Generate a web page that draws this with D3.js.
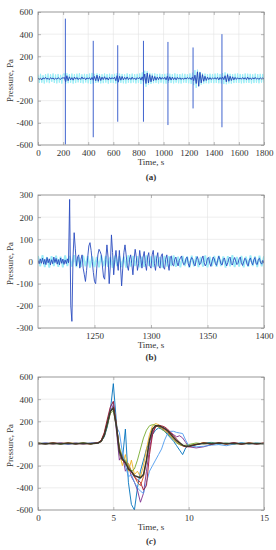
<!DOCTYPE html>
<html>
<head>
<meta charset="utf-8">
<script src="https://cdn.jsdelivr.net/npm/d3@7"></script>
<style>
  body { margin: 0; background: #fff; }
  text { font-family: "Liberation Serif", "DejaVu Serif", serif; fill: #333; }
</style>
</head>
<body>
<svg id="chart" width="276" height="550"></svg>
<script>
// ---------- panel (a): full record, 0..1800 s, sampled every 10 s ----------
const aStep = 10;
const aBlue = [
  5,-8,3,-12,6,-4,10,-6,2,-10,8,-3,5,-9,4,-6,7,-2,-8,6,3,
  10,-30,25,-20,15,-12,8,-15,12,-6,9,-10,5,-8,14,-5,7,-11,6,-4,
  8,-12,10,-15,18,-20,30,-25,20,-18,12,-10,16,-9,7,-14,10,-6,8,-5,
  12,-20,25,-30,20,-15,18,-12,10,-8,14,-10,6,-9,12,-7,5,-11,8,-4,
  10,-14,15,-25,40,-45,50,-40,35,-30,25,-20,18,-15,12,-10,14,-8,9,-6,
  11,-12,20,-18,15,-14,12,-10,8,-12,10,-6,7,-9,5,-8,6,-5,9,-4,
  7,-10,14,-20,30,-45,60,-70,55,-40,35,-25,20,-18,12,-10,8,-9,6,-5,
  8,-7,10,-12,9,-8,14,-10,25,-30,35,-25,20,-18,15,-12,10,-8,7,-6,
  5,-7,9,-6,8,-10,12,-8,6,-9,7,-5,10,-6,4,-8,6,-3,5,-2
];
const aCyan = [
  35,-40,42,-38,30,-45,40,-35,44,-42,38,-30,45,-40,36,-44,41,-37,33,-46,40,
  45,-50,48,-42,40,-38,44,-46,39,-41,43,-35,47,-40,38,-44,42,-36,40,-43,
  44,-48,50,-45,42,-40,46,-38,41,-44,39,-42,45,-37,40,-46,43,-39,38,-41,
  42,-45,48,-40,44,-39,41,-43,37,-45,46,-38,40,-42,44,-36,39,-44,42,-40,
  45,-48,55,-60,70,-75,65,-55,50,-48,44,-42,46,-40,41,-45,43,-38,40,-44,
  42,-46,45,-40,43,-41,39,-44,46,-38,41,-43,40,-45,44,-37,42,-40,38,-43,
  45,-48,52,-60,75,-85,80,-70,60,-55,48,-46,44,-42,40,-44,43,-39,41,-42,
  44,-40,46,-43,41,-45,48,-50,55,-52,47,-44,42,-46,40,-41,43,-38,45,-40,
  41,-44,39,-42,45,-38,43,-40,42,-45,38,-41,44,-39,40,-43,42,-37,41,-40
];
// blast spikes
const spikeT   = [218, 440, 635, 840, 1035, 1235, 1465];
const spikeMax = [540, 340, 300, 340, 330, 280, 400];
const spikeMin = [-595, -530, -390, -390, -420, -270, -440];

// ---------- panel (b): zoom 1200..1400 s ----------
const bStart = 1200, bStep = 1;
const bBlue = [
  5,-10,12,-8,15,-12,10,-14,18,-6,12,-15,8,-10,20,-5,14,-12,9,-15,16,-8,11,-13,7,-10,12,-6,
  280,-200,-270,20,130,60,-20,20,30,-30,10,30,-30,-60,-90,-40,20,70,85,50,
  0,-50,-90,-100,-30,30,55,45,30,-20,-70,-80,10,75,20,-100,-20,120,40,-60,
  10,50,0,-40,50,-20,-110,-30,40,75,30,-20,-40,10,30,-10,-60,10,55,20,
  -40,-10,50,10,-30,20,45,-10,-40,20,40,-20,-30,30,50,-10,-40,15,40,-20,
  -30,25,35,-25,-35,10,30,-10,-40,20,25,-15,-20,
  10,20,-5,-20,5,15,25,0,-15,-10,
  15,20,-10,-25,5,18,10,-12,-20,8,
  22,5,-15,-8,12,25,-5,-20,-10,15,
  18,-8,-22,0,20,12,-10,-18,6,24,
  8,-12,-15,10,16,-6,-20,-4,14,20,
  -10,-16,5,18,2,-14,-8,12,20,-6,
  -18,-2,15,10,-12,-20,6,16,-4,-15,
  8,18,-10,-14,10,15,-6,-12,5,-8
];
const bCyanStep = 2;
const bCyan = [
  25,-22,28,-25,20,-27,24,-20,26,-24,
  22,-26,27,-21,25,-23,28,-25,21,-24,
  26,-22,24,-27,23,-25,20,-26,27,-22,
  25,-24,21,-28,26,-20,24,-25,22,-27,
  28,-23,25,-21,24,-26,22,-24,27,-20,
  23,-25,26,-22,20,-27,25,-23,24,-21,
  27,-24,22,-26,25,-20,23,-28,26,-22,
  24,-25,21,-23,27,-26,22,-20,25,-24,
  26,-21,23,-27,24,-22,28,-25,20,-23,
  25,-26,22,-24,27,-21,23,-25,26,-22,
  24
];

// ---------- panel (c): superimposed blasts, 0..15 s ----------
const cTime = [0,0.5,1,1.5,2,2.5,3,3.5,4,
  4.2,4.4,4.6,4.8,5.0,5.2,5.4,5.6,5.8,6.0,
  6.2,6.4,6.6,6.8,7.0,7.2,7.4,7.6,7.8,8.0,
  8.2,8.4,8.6,8.8,9.0,9.2,9.4,9.6,9.8,10.0,
  10.5,11,11.5,12,12.5,13,13.5,14,14.5,15];
const cNames = ['s1', 's2', 's3', 's4', 's5', 's6', 's7', 's8'];
const cColors = ['#0072BD', '#D95319', '#EDB120', '#7E2F8E', '#77AC30', '#4D9BEE', '#A2142F', '#3b3a2c'];
const cS1 = [3,-5,4,-6,2,-4,5,-3,6, 20,60,150,300,540,200,-100,-150,130,-350, -550,-600,-400,-250,-150,-50,20,80,120,140, 130,110,80,50,20,-20,-60,-100,-40,-20, -10,5,10,-5,3,-4,6,-3,2,0];
const cS2 = [-4,3,-6,5,-2,4,-5,3,8, 15,70,180,290,330,180,-50,-120,-200,-180, -250,-300,-350,-380,-300,-150,20,120,160,150, 140,120,100,70,40,10,-10,-20,-30,-25, -10,8,-5,6,-4,3,-6,4,-2,3];
const cS3 = [2,-3,5,-4,6,-2,4,-5,10, 30,90,200,300,320,150,-80,-200,-100,-250, -150,-280,-250,-300,-200,-50,80,160,180,170, 150,130,110,80,50,20,0,-15,-25,-20, -5,6,-3,5,-6,4,-2,5,-4,2];
const cS4 = [-3,4,-2,5,-6,3,-4,2,5, 25,80,170,280,350,120,-150,-100,-250,-200, -300,-350,-420,-530,-450,-250,-50,100,150,160, 150,140,120,100,80,60,70,50,10,-30, -40,-30,-10,5,-4,6,-3,2,-5,3];
const cS5 = [4,-2,3,-5,4,-3,6,-4,7, 20,70,160,270,300,160,-30,-120,-150,-200, -250,-230,-150,-50,50,120,160,170,165,150, 130,110,90,60,30,5,-10,-20,-15,-10, 5,-4,6,-3,4,-5,3,-2,4,-3];
const cS6 = [-2,5,-4,3,-6,4,-3,5,6, 20,75,190,320,380,150,100,-80,-200,-300, -280,-350,-400,-430,-450,-350,-250,-200,-150,-100, -50,30,90,110,110,100,95,90,30,-20, -30,-25,-15,-10,-20,-5,5,-3,4,-2];
const cS7 = [3,-4,6,-3,5,-5,2,-4,9, 30,100,220,330,380,170,-60,-150,-180,-220, -260,-300,-330,-350,-420,-380,-100,80,150,165, 160,150,130,100,70,40,10,-20,-30,-30, -10,5,-5,4,-3,6,-4,3,-2,2];
const cS8 = [0,-2,3,-3,2,-2,3,-2,5, 22,75,180,290,320,160,-70,-140,-170,-230, -250,-290,-300,-310,-280,-150,30,130,160,160, 150,135,115,85,55,25,5,-15,-25,-25, -8,3,-2,4,-3,2,-4,3,-2,1];
const cSeries = [cS1, cS2, cS3, cS4, cS5, cS6, cS7, cS8];

// ---------- drawing ----------
const svg = d3.select('#chart');
const X0 = 38, X1 = 264;
const fmt = function (d) { return String(d); };

function makePanel(id, top, bottom, xDomain, yDomain, xTicks, yTicks, xLabelTicks, tag, tagY, tagItalic) {
  const x = d3.scaleLinear().domain(xDomain).range([X0, X1]);
  const y = d3.scaleLinear().domain(yDomain).range([bottom, top]);
  const g = svg.append('g');

  svg.append('clipPath').attr('id', 'clip-' + id)
    .append('rect').attr('x', X0).attr('y', top).attr('width', X1 - X0).attr('height', bottom - top);

  // grid
  g.selectAll('.gx').data(xTicks).join('line')
      .attr('x1', d => x(d)).attr('x2', d => x(d))
      .attr('y1', top).attr('y2', bottom)
      .attr('stroke', '#e3e3e3').attr('stroke-width', 0.6);
  g.selectAll('.gy').data(yTicks).join('line')
      .attr('x1', X0).attr('x2', X1)
      .attr('y1', d => y(d)).attr('y2', d => y(d))
      .attr('stroke', '#e3e3e3').attr('stroke-width', 0.6);

  const plot = g.append('g').attr('clip-path', 'url(#clip-' + id + ')');

  // axes (ticks pointing inward, MATLAB style)
  const axB = g.append('g').attr('transform', 'translate(0,' + bottom + ')')
      .call(d3.axisBottom(x).tickValues(xTicks).tickSize(-3).tickPadding(5)
        .tickFormat(d => xLabelTicks.includes(d) ? fmt(d) : ''));
  const axL = g.append('g').attr('transform', 'translate(' + X0 + ',0)')
      .call(d3.axisLeft(y).tickValues(yTicks).tickSize(-3).tickPadding(5).tickFormat(fmt));
  const axT = g.append('g').attr('transform', 'translate(0,' + top + ')')
      .call(d3.axisTop(x).tickValues(xTicks).tickSize(-3).tickFormat(''));
  const axR = g.append('g').attr('transform', 'translate(' + X1 + ',0)')
      .call(d3.axisRight(y).tickValues(yTicks).tickSize(-3).tickFormat(''));
  [axB, axL, axT, axR].forEach(function (a) {
    a.attr('font-family', '"Liberation Serif", serif');
    a.select('.domain').remove();
    a.selectAll('line').attr('stroke', '#8a8a8a').attr('stroke-width', 0.6);
    a.selectAll('text').attr('font-size', '9px').attr('fill', '#333');
  });

  g.append('rect').attr('x', X0).attr('y', top).attr('width', X1 - X0).attr('height', bottom - top)
      .attr('fill', 'none').attr('stroke', '#8a8a8a').attr('stroke-width', 0.8);

  // labels
  g.append('text')
      .attr('x', (X0 + X1) / 2).attr('y', bottom + 20)
      .attr('text-anchor', 'middle').attr('font-size', '9px')
      .text('Time, s');
  g.append('text')
      .attr('transform', 'translate(13,' + ((top + bottom) / 2 + 2) + ') rotate(-90)')
      .attr('text-anchor', 'middle').attr('font-size', '8.8px')
      .text('Pressure, Pa');
  const t = g.append('text')
      .attr('x', (X0 + X1) / 2).attr('y', tagY)
      .attr('text-anchor', 'middle').attr('font-size', '9px').attr('font-weight', 'bold');
  t.append('tspan').text('(');
  t.append('tspan').attr('font-style', tagItalic ? 'italic' : 'normal').text(tag);
  t.append('tspan').text(')');

  return { x: x, y: y, plot: plot };
}

// panel (a)
const pa = makePanel('a', 12, 145, [0, 1800], [-600, 600],
  d3.range(0, 1801, 200), d3.range(-600, 601, 200), d3.range(0, 1801, 200), 'a', 180, false);
const lineA = d3.line().x((d, i) => pa.x(i * aStep)).y(d => pa.y(d));
pa.plot.append('path').datum(aCyan).attr('d', lineA)
    .attr('fill', 'none').attr('stroke', '#9beef6').attr('stroke-width', 1);
pa.plot.append('path').datum(aBlue).attr('d', lineA)
    .attr('fill', 'none').attr('stroke', '#2443b8').attr('stroke-width', 0.9);
pa.plot.selectAll('.spike').data(spikeT).join('line')
    .attr('x1', d => pa.x(d)).attr('x2', d => pa.x(d))
    .attr('y1', (d, i) => pa.y(spikeMax[i])).attr('y2', (d, i) => pa.y(spikeMin[i]))
    .attr('stroke', '#2a52c8').attr('stroke-width', 0.9);

// panel (b)
const pb = makePanel('b', 195, 328, [1200, 1400], [-300, 300],
  [1250, 1300, 1350, 1400], d3.range(-300, 301, 100), [1250, 1300, 1350, 1400], 'b', 360, false);
pb.plot.append('path').datum(bCyan)
    .attr('d', d3.line().x((d, i) => pb.x(bStart + i * bCyanStep)).y(d => pb.y(d)))
    .attr('fill', 'none').attr('stroke', '#9decf6').attr('stroke-width', 1.8);
pb.plot.append('path').datum(bBlue)
    .attr('d', d3.line().x((d, i) => pb.x(bStart + i * bStep)).y(d => pb.y(d)))
    .attr('fill', 'none').attr('stroke', '#2a4cc0').attr('stroke-width', 0.9);

// panel (c)
const pc = makePanel('c', 377, 510, [0, 15], [-600, 600],
  [0, 5, 10, 15], d3.range(-600, 601, 200), [0, 5, 10, 15], 'c', 544, true);
const lineC = d3.line().x((d, i) => pc.x(cTime[i])).y(d => pc.y(d));
pc.plot.selectAll('.series').data(cSeries).join('path')
    .attr('d', lineC)
    .attr('fill', 'none')
    .attr('stroke', (d, i) => cColors[i])
    .attr('stroke-width', (d, i) => cNames[i] === 's8' ? 1.5 : 0.9);
</script>
</body>
</html>
